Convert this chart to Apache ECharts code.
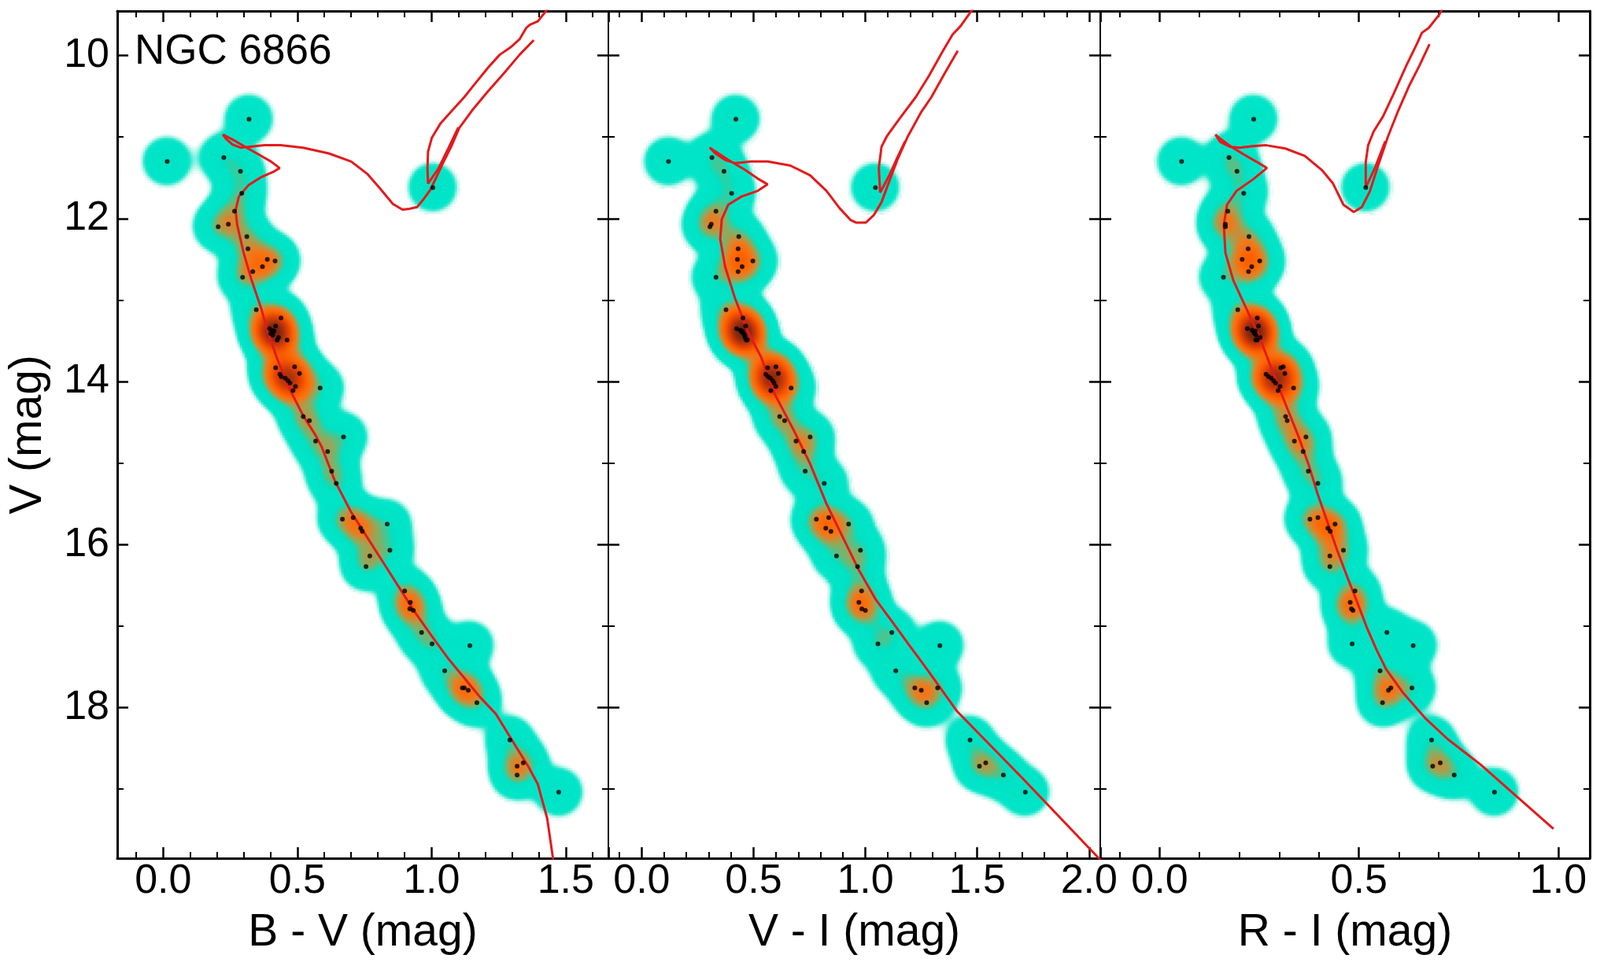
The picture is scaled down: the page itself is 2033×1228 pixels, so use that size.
<!DOCTYPE html>
<html>
<head>
<meta charset="utf-8">
<title>NGC 6866</title>
<script src="https://cdn.jsdelivr.net/npm/echarts@6/dist/echarts.min.js"></script>
<style>
  html, body { margin: 0; padding: 0; background: #fff; }
  #chart { width: 2033px; height: 1228px; }
</style>
</head>
<body>
<div id="chart"></div>
<script>
// member stars, same order in every colour
const vMag = [10.78, 11.30, 11.25, 11.42, 11.62, 11.69, 11.91, 12.10, 12.07, 12.22,
  12.37, 12.50, 12.52, 12.59, 12.65, 12.72, 13.12, 13.22, 13.32, 13.35,
  13.37, 13.39, 13.41, 13.38, 13.43, 13.46, 13.49, 13.49, 13.83, 13.82,
  13.90, 13.91, 13.94, 13.96, 13.99, 14.02, 14.06, 14.11, 14.08, 14.43,
  14.48, 14.68, 14.73, 14.86, 15.10, 15.25, 15.69, 15.67, 15.80, 15.84,
  15.75, 16.14, 16.27, 16.07, 16.57, 16.71, 16.79, 16.81, 17.08, 17.22,
  17.24, 17.55, 17.76, 17.76, 17.79, 17.94, 18.40, 18.72, 18.68, 18.83, 19.04]
const bv = [0.320, 0.015, 0.226, 0.288, 1.005, 0.293, 0.266, 0.205, 0.243, 0.312,
  0.316, 0.388, 0.417, 0.370, 0.334, 0.296, 0.347, 0.439, 0.419, 0.396,
  0.405, 0.410, 0.400, 0.413, 0.408, 0.430, 0.425, 0.462, 0.419, 0.490,
  0.508, 0.435, 0.440, 0.455, 0.465, 0.473, 0.493, 0.484, 0.585, 0.522,
  0.545, 0.672, 0.568, 0.613, 0.628, 0.645, 0.668, 0.708, 0.736, 0.742,
  0.835, 0.770, 0.756, 0.845, 0.900, 0.921, 0.919, 0.932, 0.963, 1.002,
  1.143, 1.049, 1.115, 1.122, 1.137, 1.169, 1.292, 1.319, 1.342, 1.319, 1.474]
const vi = [0.421, 0.120, 0.314, 0.368, 1.045, 0.402, 0.332, 0.305, 0.311, 0.434,
  0.431, 0.428, 0.497, 0.449, 0.431, 0.332, 0.377, 0.453, 0.465, 0.424,
  0.440, 0.447, 0.455, 0.450, 0.460, 0.462, 0.468, 0.472, 0.563, 0.600,
  0.611, 0.555, 0.565, 0.575, 0.585, 0.592, 0.600, 0.577, 0.668, 0.617,
  0.639, 0.753, 0.690, 0.724, 0.731, 0.816, 0.781, 0.836, 0.823, 0.846,
  0.925, 0.871, 0.965, 0.978, 0.983, 0.971, 0.984, 1.000, 1.118, 1.056,
  1.333, 1.136, 1.221, 1.323, 1.250, 1.274, 1.468, 1.510, 1.538, 1.617, 1.715]
const ri = [0.236, 0.055, 0.174, 0.194, 0.517, 0.211, 0.171, 0.165, 0.165, 0.224,
  0.222, 0.207, 0.251, 0.231, 0.223, 0.160, 0.196, 0.245, 0.248, 0.220,
  0.232, 0.236, 0.238, 0.240, 0.242, 0.252, 0.241, 0.245, 0.304, 0.310,
  0.314, 0.267, 0.273, 0.280, 0.286, 0.291, 0.302, 0.297, 0.336, 0.316,
  0.320, 0.367, 0.338, 0.360, 0.373, 0.397, 0.377, 0.397, 0.422, 0.428,
  0.440, 0.427, 0.427, 0.461, 0.490, 0.478, 0.481, 0.485, 0.570, 0.483,
  0.636, 0.553, 0.580, 0.633, 0.574, 0.559, 0.682, 0.685, 0.704, 0.739, 0.840]

// isochrone tracks as [colour, V]
const isoBV = [[1.460, 20.00], [1.453, 19.86], [1.431, 19.36], [1.396, 18.94], [1.360, 18.72],
  [1.324, 18.53], [1.240, 18.08], [1.180, 17.87], [1.120, 17.63], [1.060, 17.39],
  [1.000, 17.12], [0.940, 16.84], [0.880, 16.53], [0.820, 16.22], [0.760, 15.91],
  [0.700, 15.60], [0.640, 15.22], [0.592, 14.81], [0.568, 14.66], [0.522, 14.42],
  [0.474, 14.11], [0.426, 13.73], [0.390, 13.39], [0.366, 13.11], [0.330, 12.76],
  [0.300, 12.42], [0.276, 12.08], [0.270, 11.90], [0.282, 11.73], [0.318, 11.59],
  [0.366, 11.49], [0.414, 11.42], [0.434, 11.38], [0.402, 11.30], [0.354, 11.21],
  [0.306, 11.12], [0.264, 11.04], [0.223, 10.97], [0.234, 11.02], [0.258, 11.09],
  [0.288, 11.13], [0.318, 11.12], [0.378, 11.10], [0.437, 11.10], [0.521, 11.13],
  [0.617, 11.20], [0.701, 11.30], [0.760, 11.45], [0.808, 11.63], [0.856, 11.82],
  [0.892, 11.89], [0.917, 11.88], [0.946, 11.86], [0.971, 11.76], [0.995, 11.65],
  [1.020, 11.48], [1.044, 11.31], [1.073, 11.12], [1.103, 10.89], [1.152, 10.67],
  [1.210, 10.44], [1.269, 10.22], [1.328, 9.99], [1.381, 9.81]]
const isoBVagb = [[1.100, 10.88], [1.064, 11.13], [1.025, 11.39], [0.987, 11.57], [0.985, 11.38],
  [0.987, 11.18], [1.001, 11.01], [1.034, 10.83], [1.078, 10.67], [1.122, 10.51],
  [1.161, 10.35], [1.210, 10.15], [1.254, 9.99], [1.294, 9.90], [1.328, 9.80],
  [1.353, 9.66], [1.367, 9.62], [1.396, 9.58], [1.425, 9.46], [1.440, 9.40]]

const isoVI = [[2.113, 20.05], [2.040, 19.84], [1.849, 19.29], [1.703, 18.87], [1.557, 18.46],
  [1.411, 18.05], [1.265, 17.49], [1.192, 17.22], [1.118, 16.94], [1.045, 16.67],
  [0.972, 16.32], [0.899, 15.91], [0.826, 15.50], [0.753, 15.01], [0.680, 14.60],
  [0.592, 14.14], [0.534, 13.70], [0.475, 13.39], [0.416, 12.97], [0.373, 12.59],
  [0.351, 12.25], [0.358, 12.01], [0.387, 11.83], [0.446, 11.73], [0.519, 11.66],
  [0.563, 11.58], [0.519, 11.51], [0.461, 11.40], [0.387, 11.28], [0.343, 11.20],
  [0.304, 11.13], [0.329, 11.20], [0.373, 11.28], [0.416, 11.32], [0.490, 11.30],
  [0.563, 11.30], [0.665, 11.35], [0.753, 11.47], [0.826, 11.66], [0.884, 11.87],
  [0.935, 12.02], [0.960, 12.05], [1.002, 12.05], [1.037, 11.96], [1.072, 11.80],
  [1.107, 11.54], [1.143, 11.28], [1.190, 10.99], [1.248, 10.70], [1.295, 10.51],
  [1.354, 10.22], [1.413, 9.94]]
const isoVIagb = [[1.178, 11.05], [1.143, 11.25], [1.107, 11.47], [1.066, 11.68], [1.060, 11.38],
  [1.072, 11.12], [1.096, 10.99], [1.154, 10.77], [1.225, 10.51], [1.284, 10.25],
  [1.343, 9.96], [1.390, 9.74], [1.425, 9.64], [1.472, 9.46], [1.490, 9.40]]

const isoRI = [[0.988, 19.49], [0.886, 19.05], [0.805, 18.70], [0.723, 18.39], [0.666, 18.13],
  [0.609, 17.81], [0.568, 17.53], [0.544, 17.29], [0.519, 17.01], [0.495, 16.70],
  [0.470, 16.39], [0.446, 16.08], [0.422, 15.74], [0.397, 15.39], [0.373, 15.01],
  [0.348, 14.67], [0.316, 14.28], [0.283, 13.87], [0.250, 13.45], [0.218, 13.11],
  [0.185, 12.76], [0.165, 12.42], [0.161, 12.08], [0.169, 11.83], [0.193, 11.66],
  [0.234, 11.52], [0.269, 11.38], [0.242, 11.30], [0.210, 11.21], [0.177, 11.11],
  [0.152, 11.02], [0.140, 10.97], [0.152, 11.06], [0.177, 11.12], [0.201, 11.13],
  [0.234, 11.11], [0.267, 11.10], [0.315, 11.14], [0.364, 11.23], [0.408, 11.41],
  [0.435, 11.57], [0.461, 11.83], [0.487, 11.92], [0.507, 11.86], [0.527, 11.67],
  [0.546, 11.38], [0.573, 10.99], [0.599, 10.67], [0.625, 10.38], [0.652, 10.12], [0.677, 9.86]]
const isoRIagb = [[0.566, 11.05], [0.540, 11.38], [0.517, 11.62], [0.517, 11.31], [0.523, 11.10],
  [0.537, 10.93], [0.560, 10.75], [0.586, 10.48], [0.619, 10.12], [0.645, 9.86],
  [0.658, 9.72], [0.675, 9.66], [0.701, 9.50], [0.710, 9.42]]

const vRange = [9.453, 19.85]
const FONT = '"Liberation Sans", Arial, sans-serif'
const GRID_TOP = 14
const GRID_H = 1077
const CELL = 3 // px
const SX = 16 // kernel sigma, px
const SY = 16

const panels = [
  { left: 149, width: 624, range: [-0.171, 1.659], split: 4, colour: bv, iso: isoBV, agb: isoBVagb, name: 'B - V (mag)' },
  { left: 773, width: 625, range: [-0.149, 2.050], split: 4, colour: vi, iso: isoVI, agb: isoVIagb, name: 'V - I (mag)' },
  { left: 1398, width: 622, range: [-0.149, 1.079], split: 2, colour: ri, iso: isoRI, agb: isoRIagb, name: 'R - I (mag)' }
]

// cyan -> orange -> dark red, d = 1 is the peak of one lone star
const densityStops = [
  [0.085, [255, 255, 255]],
  [0.14, [175, 244, 232]],
  [0.20, [40, 231, 205]],
  [0.26, [0, 229, 200]],
  [1.25, [0, 226, 196]],
  [1.90, [140, 172, 96]],
  [2.60, [236, 124, 32]],
  [3.60, [255, 102, 0]],
  [5.50, [225, 66, 6]],
  [8.00, [150, 44, 14]],
  [11.0, [72, 26, 16]]
]

function densityColor (d) {
  const s = densityStops
  if (d <= s[0][0]) return 'rgb(255,255,255)'
  for (let k = 1; k < s.length; k++) {
    if (d <= s[k][0]) {
      const t = (d - s[k - 1][0]) / (s[k][0] - s[k - 1][0])
      const c = s[k - 1][1].map((v, n) => Math.round(v + (s[k][1][n] - v) * t))
      return 'rgb(' + c.join(',') + ')'
    }
  }
  const last = s[s.length - 1][1]
  return 'rgb(' + last.join(',') + ')'
}

// gaussian density of the stars on a pixel-sized grid, returned in data units
function densityCells (xs, ys, p) {
  const pxX = p.width / (p.range[1] - p.range[0])
  const pxY = GRID_H / (vRange[1] - vRange[0])
  const nx = Math.ceil(p.width / CELL)
  const ny = Math.ceil(GRID_H / CELL)
  const grid = new Float32Array(nx * ny)
  const reach = 56
  for (let k = 0; k < xs.length; k++) {
    const cx = (xs[k] - p.range[0]) * pxX
    const cy = (ys[k] - vRange[0]) * pxY
    const i0 = Math.max(0, Math.floor((cx - reach) / CELL))
    const i1 = Math.min(nx - 1, Math.ceil((cx + reach) / CELL))
    const j0 = Math.max(0, Math.floor((cy - reach) / CELL))
    const j1 = Math.min(ny - 1, Math.ceil((cy + reach) / CELL))
    for (let j = j0; j <= j1; j++) {
      const dy = (j + 0.5) * CELL - cy
      for (let i = i0; i <= i1; i++) {
        const dx = (i + 0.5) * CELL - cx
        grid[j * nx + i] += Math.exp(-dx * dx / (2 * SX * SX) - dy * dy / (2 * SY * SY))
      }
    }
  }
  const cells = []
  for (let j = 0; j < ny; j++) {
    for (let i = 0; i < nx; i++) {
      const d = grid[j * nx + i]
      if (d > densityStops[0][0]) {
        cells.push([p.range[0] + (i + 0.5) * CELL / pxX, vRange[0] + (j + 0.5) * CELL / pxY, d])
      }
    }
  }
  return { cells, hx: CELL / pxX / 2, hy: CELL / pxY / 2 }
}

function halfStep (v) {
  const r = Math.round(v * 2) / 2
  return Math.abs(v - r) < 1e-6 ? r.toFixed(1) : ''
}

function evenStep (v) {
  const r = Math.round(v)
  return Math.abs(v - r) < 1e-6 && r % 2 === 0 ? String(r) : ''
}

const grids = []
const xAxes = []
const yAxes = []
const series = []

panels.forEach((p, i) => {
  grids.push({ left: p.left, top: GRID_TOP, width: p.width, height: GRID_H, outerBoundsMode: 'none' })

  const tick = { inside: true, length: 14, lineStyle: { color: '#000', width: 2.5 } }
  ;[false, true].forEach(top => {
    xAxes.push({
      type: 'value',
      gridIndex: i,
      position: top ? 'top' : 'bottom',
      min: p.range[0],
      max: p.range[1],
      splitNumber: p.split,
      axisLine: { onZero: false, lineStyle: { color: '#000', width: 3 } },
      axisTick: tick,
      minorTick: { show: true, splitNumber: 5, length: 8, lineStyle: { color: '#000', width: 2 } },
      splitLine: { show: false },
      axisLabel: top ? { show: false } : { fontSize: 52, color: '#000', fontFamily: FONT, margin: 4, formatter: halfStep },
      name: top ? '' : p.name,
      nameLocation: 'middle',
      nameGap: 67,
      nameTextStyle: { fontSize: 57, color: '#000', fontFamily: FONT }
    })
  })
  ;[false, true].forEach(right => {
    const outer = (i === 0 && !right) || (i === 2 && right)
    yAxes.push({
      type: 'value',
      gridIndex: i,
      position: right ? 'right' : 'left',
      inverse: true,
      min: vRange[0],
      max: vRange[1],
      splitNumber: 5,
      axisLine: { onZero: false, lineStyle: { color: '#000', width: outer ? 3 : 1.5 } },
      axisTick: tick,
      minorTick: { show: true, splitNumber: 2, length: 8, lineStyle: { color: '#000', width: 2 } },
      splitLine: { show: false },
      axisLabel: (i === 0 && !right)
        ? { fontSize: 52, color: '#000', fontFamily: FONT, margin: 10, formatter: evenStep }
        : { show: false },
      name: (i === 0 && !right) ? 'V (mag)' : '',
      nameLocation: 'middle',
      nameRotate: 90,
      nameGap: 84,
      nameTextStyle: { fontSize: 57, color: '#000', fontFamily: FONT }
    })
  })

  const dens = densityCells(p.colour, vMag, p)
  series.push({
    type: 'custom',
    xAxisIndex: 2 * i,
    yAxisIndex: 2 * i,
    dimensions: ['x', 'y', 'd'],
    encode: { x: 0, y: 1 },
    data: dens.cells,
    clip: true,
    silent: true,
    z: 1,
    renderItem: (params, api) => {
      const a = api.coord([api.value(0) - dens.hx, api.value(1) - dens.hy])
      const b = api.coord([api.value(0) + dens.hx, api.value(1) + dens.hy])
      return {
        type: 'rect',
        shape: {
          x: Math.min(a[0], b[0]) - 0.4,
          y: Math.min(a[1], b[1]) - 0.4,
          width: Math.abs(b[0] - a[0]) + 0.8,
          height: Math.abs(b[1] - a[1]) + 0.8
        },
        style: { fill: densityColor(api.value(2)) }
      }
    }
  })

  ;[p.iso, p.agb].forEach(track => {
    series.push({
      type: 'line',
      xAxisIndex: 2 * i,
      yAxisIndex: 2 * i,
      data: track,
      showSymbol: false,
      clip: true,
      silent: true,
      z: 3,
      lineStyle: { color: '#e31a1c', width: 3 }
    })
  })

  series.push({
    type: 'scatter',
    xAxisIndex: 2 * i,
    yAxisIndex: 2 * i,
    data: p.colour.map((c, k) => [c, vMag[k]]),
    symbolSize: 6,
    silent: true,
    z: 4,
    itemStyle: { color: '#000' }
  })
})

const chart = echarts.init(document.getElementById('chart'))
chart.setOption({
  animation: false,
  backgroundColor: '#fff',
  title: {
    text: 'NGC 6866',
    left: 171,
    top: 40,
    padding: 0,
    textStyle: { fontSize: 53, fontWeight: 'normal', color: '#000', fontFamily: FONT }
  },
  grid: grids,
  xAxis: xAxes,
  yAxis: yAxes,
  series: series
})
</script>
</body>
</html>
